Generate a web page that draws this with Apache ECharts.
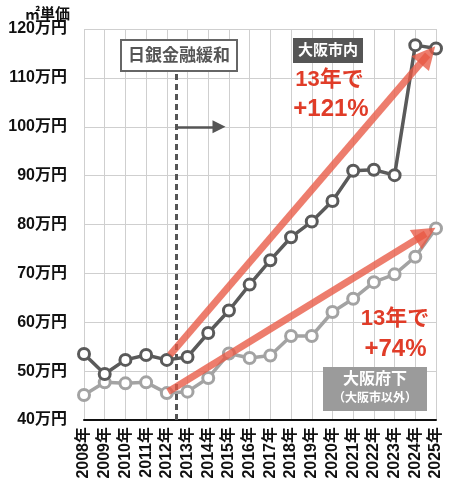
<!DOCTYPE html>
<html><head><meta charset="utf-8">
<script src="https://cdn.jsdelivr.net/npm/echarts@6/dist/echarts.min.js"></script>
<style>html,body{margin:0;padding:0;background:#fff}#c{width:450px;height:494px}</style>
</head><body><div id="c"></div>
<script>
const years = [2008,2009,2010,2011,2012,2013,2014,2015,2016,2017,2018,2019,2020,2021,2022,2023,2024,2025];
const osakaCity = [53.5,49.4,52.3,53.3,52.3,52.9,57.8,62.4,67.7,72.7,77.4,80.6,84.8,91.0,91.2,90.1,116.7,116.0];
const osakaPref = [45.1,47.7,47.5,47.7,45.5,45.8,48.6,53.6,52.7,53.2,57.2,57.2,62.1,64.8,68.2,69.8,73.4,79.2];
const yTicks = [40,50,60,70,80,90,100,110,120];
const cityArrow = [[2012.15,53.3],[2024.6,114.7]];
const prefArrow = [[2012.06,45.8],[2024.5,78.1]];
const bojLine = [[2012.45,40],[2012.45,111.4]];
const bojArrow = [[2012.45,100],[2014.52,100]];

const FF = '"Liberation Sans","Noto Sans CJK JP",sans-serif';
const chart = echarts.init(document.getElementById('c'));
const pairs = arr => years.map((y,i)=>[y,arr[i]]);
chart.setOption({
  animation:false,
  grid:{left:84,right:14,top:29,bottom:74},
  xAxis:{type:'value',min:years[0],max:years[years.length-1],interval:1,
    axisLine:{show:true,lineStyle:{color:'#111',width:2}},
    axisTick:{show:false},
    splitLine:{show:true,lineStyle:{color:'#cfcfcf',width:1}},
    axisLabel:{rotate:90,margin:7,formatter:v=>v+'年',color:'#111',fontWeight:'bold',fontSize:16,fontFamily:FF}
  },
  yAxis:{type:'value',min:yTicks[0],max:yTicks[yTicks.length-1],interval:10,
    axisLine:{show:false},axisTick:{show:false},
    splitLine:{show:true,lineStyle:{color:'#cfcfcf',width:1}},
    axisLabel:{margin:17,formatter:v=>v+'万円',color:'#111',fontWeight:'bold',fontSize:16,fontFamily:FF}
  },
  series:[
    {type:'line',data:pairs(osakaPref),symbol:'circle',symbolSize:11,z:2,
      lineStyle:{color:'#a3a3a3',width:3.5},
      itemStyle:{color:'#fff',borderColor:'#a3a3a3',borderWidth:3}},
    {type:'line',data:pairs(osakaCity),symbol:'circle',symbolSize:11,z:3,
      lineStyle:{color:'#5a5a5a',width:3.5},
      itemStyle:{color:'#fff',borderColor:'#5a5a5a',borderWidth:3}},
    {type:'line',data:[],z:1,
      markLine:{silent:true,symbol:['none','none'],label:{show:false},
        lineStyle:{color:'#555',width:3,type:[6,4]},
        data:[[{coord:bojLine[0]},{coord:bojLine[1]}]]}},
    {type:'line',data:[],z:4,
      markLine:{silent:true,symbol:['none','triangle'],symbolSize:13,label:{show:false},
        lineStyle:{color:'#555',width:2.5,type:'solid'},
        itemStyle:{color:'#555'},
        data:[[{coord:bojArrow[0]},{coord:bojArrow[1]}]]}},
    {type:'line',data:[],z:5,
      markLine:{silent:true,symbol:['none','triangle'],symbolSize:23,label:{show:false},
        lineStyle:{color:'rgba(232,88,68,0.78)',width:7,type:'solid'},
        itemStyle:{color:'rgba(232,88,68,0.78)'},
        data:[[{coord:cityArrow[0]},{coord:cityArrow[1]}],[{coord:prefArrow[0]},{coord:prefArrow[1]}]]}}
  ],
  graphic:[
    {type:'text',x:47.5,y:14.5,style:{text:'㎡単価',font:'bold 15px '+FF,fill:'#111',align:'center',verticalAlign:'middle'}},
    {type:'rect',shape:{x:121,y:40,width:116,height:31},style:{fill:'#fff',stroke:'#666',lineWidth:2},z:10},
    {type:'text',x:179,y:56,z:11,style:{text:'日銀金融緩和',font:'bold 17px '+FF,fill:'#555',align:'center',verticalAlign:'middle'}},
    {type:'rect',shape:{x:293,y:38,width:70,height:25},style:{fill:'#555'},z:10},
    {type:'text',x:328,y:50.5,z:11,style:{text:'大阪市内',font:'bold 15px '+FF,fill:'#fff',align:'center',verticalAlign:'middle'}},
    {type:'text',x:329.5,y:80,z:11,style:{text:'13年で',font:'bold 22px '+FF,fill:'#e03c28',align:'center',verticalAlign:'middle'}},
    {type:'text',x:331,y:109,z:11,style:{text:'+121%',font:'bold 24px '+FF,fill:'#e03c28',align:'center',verticalAlign:'middle'}},
    {type:'text',x:395,y:319,z:11,style:{text:'13年で',font:'bold 22px '+FF,fill:'#e03c28',align:'center',verticalAlign:'middle'}},
    {type:'text',x:395.5,y:349,z:11,style:{text:'+74%',font:'bold 24px '+FF,fill:'#e03c28',align:'center',verticalAlign:'middle'}},
    {type:'rect',shape:{x:323,y:367,width:104,height:44},style:{fill:'#9b9b9b'},z:10},
    {type:'text',x:375,y:380,z:11,style:{text:'大阪府下',font:'bold 16px '+FF,fill:'#fff',align:'center',verticalAlign:'middle'}},
    {type:'text',x:375,y:399,z:11,style:{text:'（大阪市以外）',font:'bold 12px '+FF,fill:'#fff',align:'center',verticalAlign:'middle'}}
  ]
});
</script></body></html>
